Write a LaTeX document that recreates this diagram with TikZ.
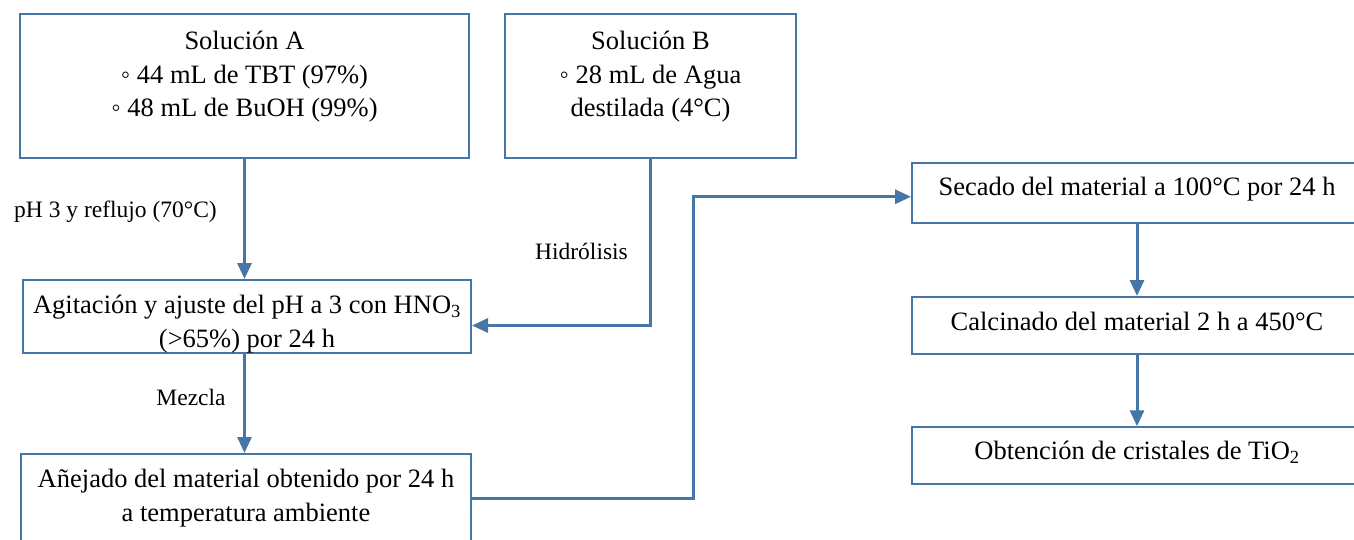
\documentclass[tikz,border=0pt]{standalone}
\usepackage{fontspec}
\setmainfont{Liberation Serif}
\usetikzlibrary{arrows.meta,positioning}
\definecolor{flowblue}{RGB}{70,118,165}

\begin{document}
\begin{tikzpicture}[x=1pt,y=-1pt,
  box/.style={draw=flowblue,line width=2pt,inner sep=0pt},
  boxtext/.style={align=center,inner sep=0pt,font=\fontsize{26.5}{33.5}\selectfont},
  steplabel/.style={inner sep=0pt,font=\fontsize{23.5}{28}\selectfont},
  flow/.style={flowblue,line width=3pt,-{Triangle[length=16pt,width=14pt]}}]
\path[use as bounding box,clip] (0,0) rectangle (1354,539);
% cajas
\node[box,minimum width=449pt,minimum height=144pt] (solA) at (244.5,86) {};
\node[box,minimum width=291pt,minimum height=144pt] (solB) at (650.5,86) {};
\node[box,minimum width=448pt,minimum height=73pt] (agit) at (247,316.5) {};
\node[box,minimum width=450pt,minimum height=88pt] (anej) at (246,498) {};
\node[box,minimum width=450pt,minimum height=59.5pt] (secado) at (1137,192.75) {};
\node[box,minimum width=450pt,minimum height=57pt] (calc) at (1137,325.5) {};
\node[box,minimum width=450pt,minimum height=57pt] (obt) at (1137,455.75) {};
% textos de las cajas
\node[boxtext,below=18pt of solA.north] (solAtext) {Solución A\\◦ 44 mL de TBT (97\%)\\◦ 48 mL de BuOH (99\%)};
\node[boxtext,below=18pt of solB.north] (solBtext) {Solución B\\◦ 28 mL de Agua\\destilada (4°C)};
\node[boxtext,below=16pt of agit.north] (agittext) {Agitación y ajuste del pH a 3 con HNO\textsubscript{3}\\(>65\%) por 24 h};
\node[boxtext,below=16pt of anej.north] (anejtext) {Añejado del material obtenido por 24 h\\a temperatura ambiente};
\node[boxtext,below=15pt of secado.north] (secadotext) {Secado del material a 100°C por 24 h};
\node[boxtext,below=16pt of calc.north] (calctext) {Calcinado del material 2 h a 450°C};
\node[boxtext,below=15pt of obt.north] (obttext) {Obtención de cristales de TiO\textsubscript{2}};
% flechas
\draw[flow] (solA.south) -- (solA.south |- agit.north);
\draw[flow] (solB.south) |- ([yshift=-9pt]agit.east);
\draw[flow] (solA.south |- agit.south) -- (solA.south |- anej.north);
\draw[flow] (anej.east) -- ++(221,0) |- ([yshift=-4pt]secado.west);
\draw[flow] (secado.south) -- (calc.north);
\draw[flow] (calc.south) -- (obt.north);
% etiquetas
\node[steplabel] (phlabel) at (115.5,211.5) {pH 3 y reflujo (70°C)};
\node[steplabel] (hidlabel) at (581.5,251.5) {Hidrólisis};
\node[steplabel] (mezlabel) at (191,397.5) {Mezcla};
\end{tikzpicture}
\end{document}
